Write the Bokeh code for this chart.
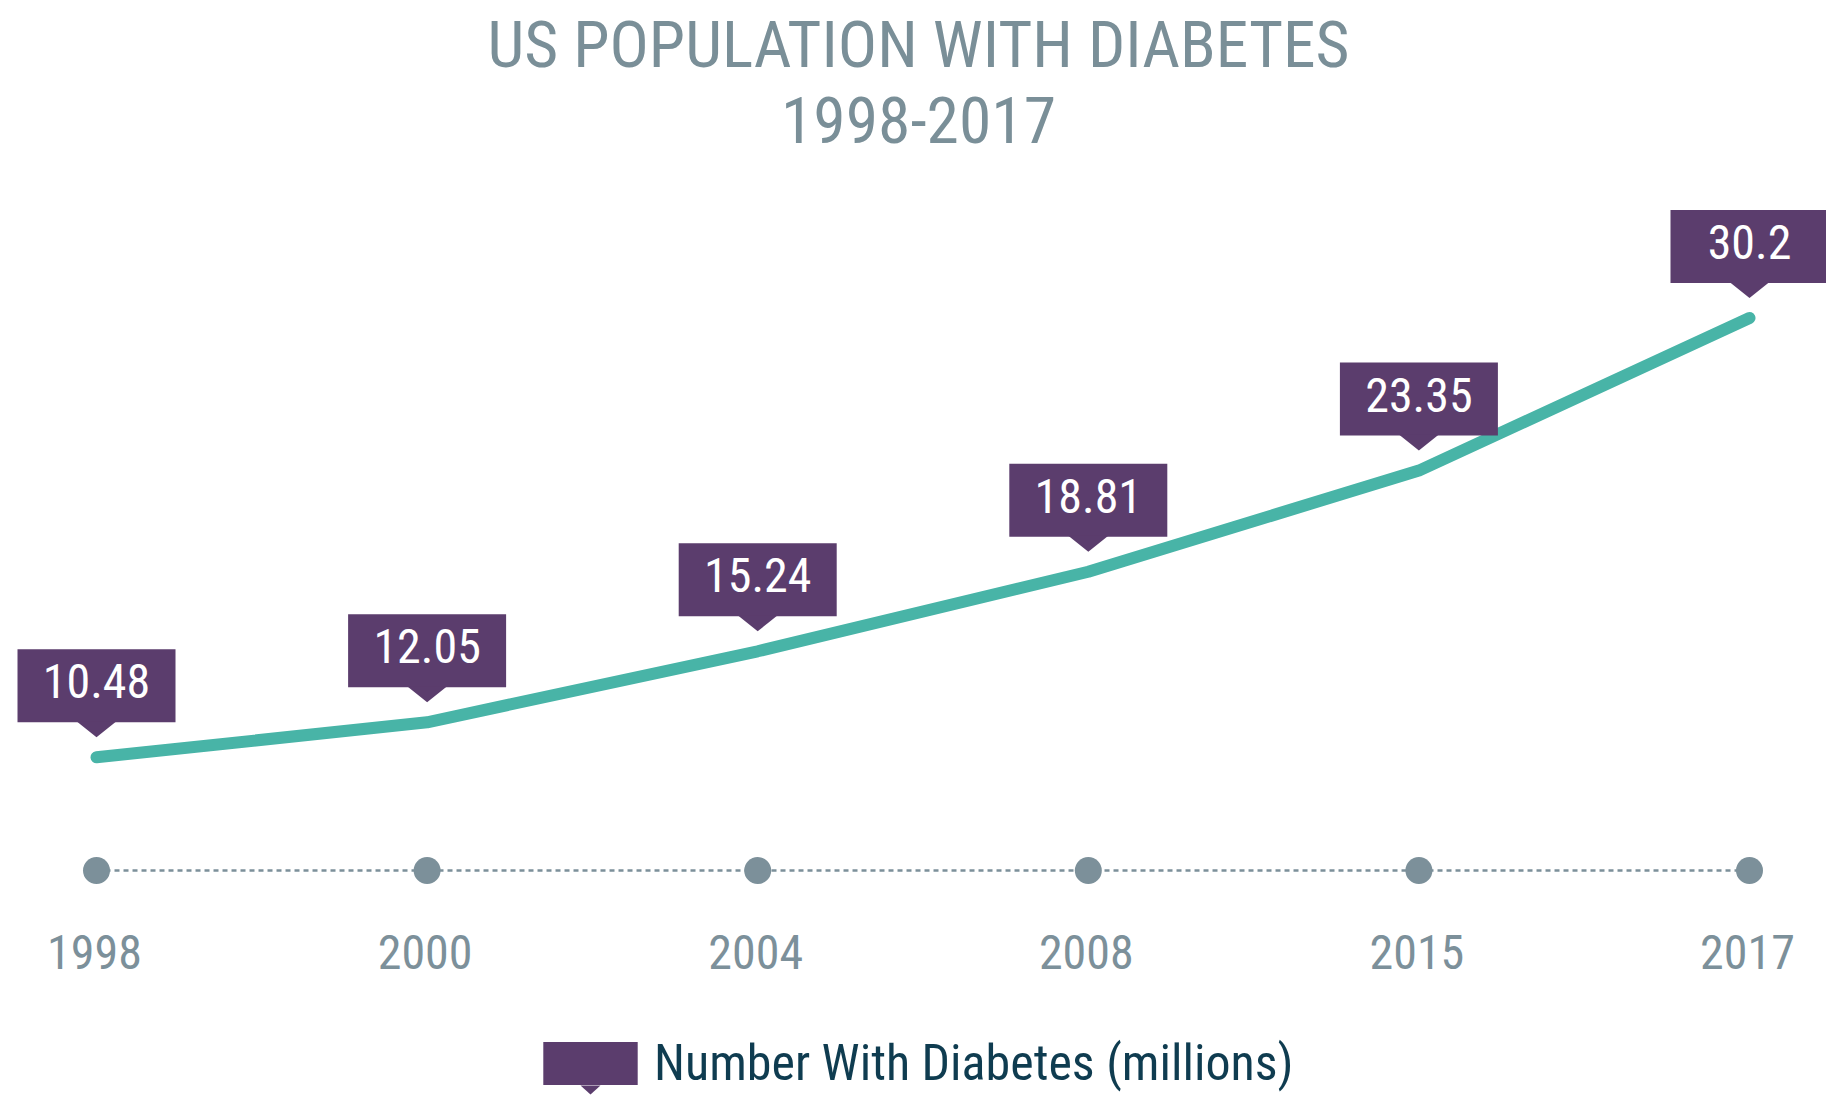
from bokeh.plotting import figure
from bokeh.models import (ColumnDataSource, Range1d, Label, Legend, LegendItem,
                          PolyAnnotation)
from bokeh.core.properties import value
from bokeh.embed import file_html
from bokeh.resources import INLINE

# ---- data ----
years = ["1998", "2000", "2004", "2008", "2015", "2017"]
diabetes_millions = [10.48, 12.05, 15.24, 18.81, 23.35, 30.2]
value_labels = ["10.48", "12.05", "15.24", "18.81", "23.35", "30.2"]
title_line1 = "US POPULATION WITH DIABETES"
title_line2 = "1998-2017"
series_name = "Number With Diabetes (millions)"

# ---- style ----
FONT_NAME = "Roboto Condensed"
FONT = value(FONT_NAME)
PURPLE = "#5b3d6d"
TEAL = "#48b4a7"
GREY = "#7c909a"
TITLE_GREY = "#7a8f98"
NAVY = "#0f3c50"

W, H = 1826, 1095
X0, X1 = -0.2904, 5.2329
Y0, Y1 = -4.70, 44.45
px_x = W / (X1 - X0)   # pixels per x unit
px_y = H / (Y1 - Y0)   # pixels per y unit

idx = list(range(len(years)))

p = figure(width=W, height=H, output_backend="svg", toolbar_location=None,
           x_range=Range1d(X0, X1), y_range=Range1d(Y0, Y1),
           x_axis_location=None, y_axis_location=None, min_border=0)
p.outline_line_color = None
p.background_fill_color = "white"
p.border_fill_color = "white"
p.xgrid.grid_line_color = None
p.ygrid.grid_line_color = None

# timeline range: 0 sits on the dotted timeline
p.extra_y_ranges = {"timeline": Range1d(-225, 870)}

# main series
src = ColumnDataSource(dict(
    x=idx, y=diabetes_millions, label=value_labels, year=years,
    box_y=[v + 71.5 / px_y for v in diabetes_millions],
    zero=[0] * len(years),
))
p.line("x", "y", source=src, line_color=TEAL, line_width=12,
       line_cap="round", line_join="round")

# callouts
box_r = p.rect("x", "box_y", width=158, height=73, width_units="screen",
               height_units="screen", source=src, fill_color=PURPLE,
               line_color=None)
tri_xs = [[i - 20 / px_x, i + 20 / px_x, i] for i in idx]
tri_ys = [[v + 36 / px_y, v + 36 / px_y, v + 20 / px_y] for v in diabetes_millions]
p.patches(tri_xs, tri_ys, fill_color=PURPLE, line_color=None)
p.text("x", "y", text="label", source=src, y_offset=-76, text_align="center",
       text_baseline="alphabetic", text_color="white", text_font=FONT,
       text_font_size="48px")

# timeline
p.line("x", "zero", source=src, y_range_name="timeline", line_color=GREY,
       line_width=2.5, line_dash="5 4")
p.scatter("x", "zero", source=src, y_range_name="timeline", size=27,
          fill_color=GREY, line_color=None)
p.text("x", "zero", text="year", source=src, y_range_name="timeline",
       x_offset=-2, y_offset=81, text_align="center",
       text_baseline="alphabetic", text_color=GREY, text_font=FONT,
       text_font_size="48px")

# title
p.add_layout(Label(x=918, y=44, x_units="canvas", y_units="canvas",
                   text=title_line1, text_align="center",
                   text_baseline="alphabetic", text_font=FONT_NAME,
                   text_font_size="65.5px", text_color=TITLE_GREY))
p.add_layout(Label(x=918, y=119, x_units="canvas", y_units="canvas",
                   text=title_line2, text_align="center",
                   text_baseline="alphabetic", text_font=FONT_NAME,
                   text_font_size="65.5px", text_color=TITLE_GREY))

# legend
legend = Legend(items=[LegendItem(label=series_name, renderers=[box_r])],
                location=(531, 3), orientation="horizontal",
                padding=0, margin=0, border_line_color=None,
                background_fill_alpha=0, glyph_width=118, glyph_height=54,
                label_standoff=5, label_text_font=FONT_NAME,
                label_text_font_size="50px", label_text_color=NAVY,
                label_height=54, label_text_baseline="alphabetic")
p.add_layout(legend, "center")
p.add_layout(PolyAnnotation(xs=[580, 600, 590], ys=[1085, 1085, 1094],
                            xs_units="canvas", ys_units="canvas",
                            fill_color=PURPLE, fill_alpha=1, line_color=None))

open("out.html", "w").write(file_html(p, INLINE))
